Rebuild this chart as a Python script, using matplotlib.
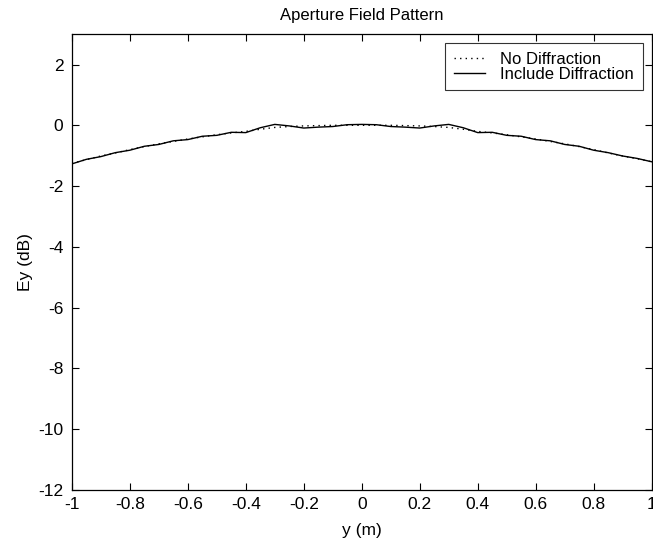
import numpy as np
import matplotlib
matplotlib.use("Agg")
import matplotlib.pyplot as plt

plt.rcParams['font.family'] = ['Liberation Sans', 'DejaVu Sans']
plt.rcParams['axes.unicode_minus'] = False

# aperture coordinate (m)
y_pos = [-1.00, -0.95, -0.90, -0.85, -0.80, -0.75, -0.70, -0.65, -0.60, -0.55,
         -0.50, -0.45, -0.40, -0.35, -0.30, -0.25, -0.20, -0.15, -0.10, -0.05,
         0.00, 0.05, 0.10, 0.15, 0.20, 0.25, 0.30, 0.35, 0.40, 0.45,
         0.50, 0.55, 0.60, 0.65, 0.70, 0.75, 0.80, 0.85, 0.90, 0.95, 1.00]

# field without diffraction (dB)
ey_nodiff = [-1.25, -1.13, -1.01, -0.91, -0.80, -0.70, -0.61, -0.53, -0.45, -0.38,
             -0.31, -0.25, -0.20, -0.13, -0.07, -0.04, -0.02, -0.01, 0.00, 0.00,
             0.00, 0.00, 0.00, -0.01, -0.02, -0.04, -0.07, -0.13, -0.20, -0.25,
             -0.31, -0.38, -0.45, -0.53, -0.61, -0.70, -0.80, -0.91, -1.01, -1.10, -1.20]

# field including edge diffraction (dB)
ey_diff = [-1.27, -1.12, -1.03, -0.90, -0.82, -0.69, -0.63, -0.51, -0.47, -0.36,
           -0.33, -0.23, -0.24, -0.08, 0.03, -0.02, -0.09, -0.06, -0.04, 0.02,
           0.03, 0.02, -0.04, -0.06, -0.09, -0.02, 0.03, -0.08, -0.24, -0.23,
           -0.33, -0.36, -0.47, -0.51, -0.63, -0.69, -0.82, -0.90, -1.01, -1.09, -1.20]

fig = plt.figure(figsize=(6.53, 5.42), dpi=100)
ax = fig.add_axes([0.110, 0.096, 0.888, 0.841])

ax.plot(y_pos, ey_nodiff, color='k', lw=1.0, ls=(0, (1.0, 3.0)), label='No Diffraction')
ax.plot(y_pos, ey_diff, color='k', lw=1.0, label='Include Diffraction')

ax.set_xlim(-1, 1)
ax.set_ylim(-12, 3)
ax.set_xticks(np.arange(-1, 1.01, 0.2))
ax.set_xticklabels(['-1', '-0.8', '-0.6', '-0.4', '-0.2', '0', '0.2', '0.4', '0.6', '0.8', '1'])
ax.set_yticks([-12, -10, -8, -6, -4, -2, 0, 2])
ax.tick_params(direction='in', length=5, width=0.8, top=True, right=True, labelsize=12.5)
ax.tick_params(axis='x', pad=5)
ax.tick_params(axis='y', pad=6)
for s in ax.spines.values():
    s.set_linewidth(0.9)

ax.set_title('Aperture Field Pattern', fontsize=12, pad=10)
ax.set_xlabel('y (m)', fontsize=12.5, labelpad=8)
ax.set_ylabel('Ey (dB)', fontsize=12.5, labelpad=4)

leg = ax.legend(loc='upper right', fontsize=12, frameon=True, fancybox=False,
                edgecolor='k', handlelength=1.9, borderpad=0.5, labelspacing=0.0,
                borderaxespad=0.55, handletextpad=0.9)
leg.get_frame().set_linewidth(0.8)

fig.savefig('out.png', dpi=100)
